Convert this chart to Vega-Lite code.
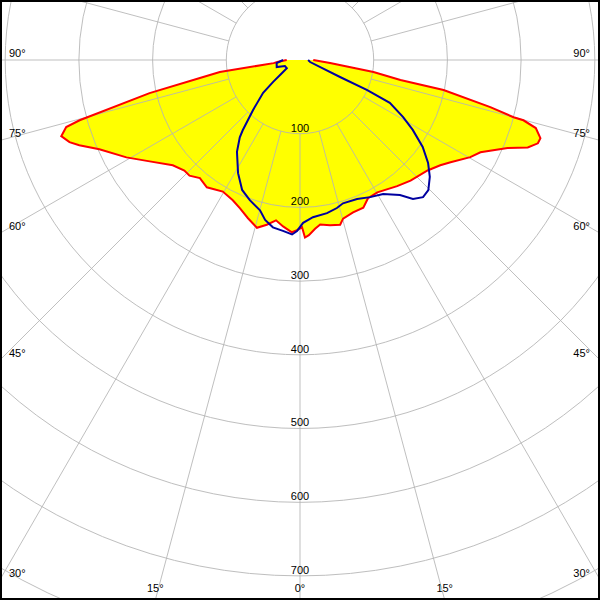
{
  "$schema": "https://vega.github.io/schema/vega-lite/v6.json",
  "width": 596,
  "height": 596,
  "autosize": "none",
  "padding": 2,
  "background": "#000000",
  "view": {"fill": "#ffffff", "stroke": null},
  "datasets": {
    "red": [
      {"g": -90, "cd": 18}, {"g": -85.0, "cd": 31}, {"g": -83.2, "cd": 36}, {"g": -81.5, "cd": 110},
      {"g": -79.8, "cd": 138}, {"g": -77.6, "cd": 209}, {"g": -74.7, "cd": 310}, {"g": -74.0, "cd": 330},
      {"g": -72.3, "cd": 340}, {"g": -70.4, "cd": 332}, {"g": -68.9, "cd": 321}, {"g": -66.0, "cd": 298},
      {"g": -60.7, "cd": 270}, {"g": -56.0, "cd": 246}, {"g": -50.4, "cd": 224}, {"g": -46.3, "cd": 217},
      {"g": -43.7, "cd": 217}, {"g": -40.3, "cd": 210}, {"g": -36.2, "cd": 214}, {"g": -30.4, "cd": 207},
      {"g": -25.6, "cd": 211}, {"g": -22.1, "cd": 217}, {"g": -18.2, "cd": 226}, {"g": -14.4, "cd": 235},
      {"g": -11.4, "cd": 228}, {"g": -8.5, "cd": 220}, {"g": -5.8, "cd": 227}, {"g": -2.7, "cd": 234},
      {"g": -1.0, "cd": 231}, {"g": 0.7, "cd": 227}, {"g": 1.6, "cd": 241}, {"g": 2.9, "cd": 238},
      {"g": 5.1, "cd": 230}, {"g": 7.0, "cd": 225}, {"g": 10.3, "cd": 228}, {"g": 13.7, "cd": 230},
      {"g": 15.2, "cd": 223}, {"g": 19.2, "cd": 219}, {"g": 23.2, "cd": 218}, {"g": 26.2, "cd": 209},
      {"g": 30.3, "cd": 208}, {"g": 37.6, "cd": 216}, {"g": 42.5, "cd": 222}, {"g": 49.1, "cd": 229},
      {"g": 53.1, "cd": 238}, {"g": 55.8, "cd": 247}, {"g": 60.3, "cd": 266}, {"g": 62.9, "cd": 275},
      {"g": 67.0, "cd": 306}, {"g": 69.0, "cd": 331}, {"g": 70.7, "cd": 342}, {"g": 72.0, "cd": 343},
      {"g": 73.9, "cd": 333}, {"g": 74.9, "cd": 314}, {"g": 75.0, "cd": 300}, {"g": 76.1, "cd": 266},
      {"g": 78.2, "cd": 199}, {"g": 78.7, "cd": 139}, {"g": 80.7, "cd": 101}, {"g": 84.3, "cd": 41},
      {"g": 90, "cd": 18}
    ],
    "blue": [
      {"g": -90, "cd": 23}, {"g": -82.6, "cd": 32}, {"g": -73.1, "cd": 33}, {"g": -68.2, "cd": 22},
      {"g": -58.4, "cd": 21}, {"g": -54.2, "cd": 30}, {"g": -50.8, "cd": 47}, {"g": -48.3, "cd": 67},
      {"g": -43.2, "cd": 93}, {"g": -39.2, "cd": 123}, {"g": -37.9, "cd": 133}, {"g": -34.5, "cd": 151},
      {"g": -28.7, "cd": 175}, {"g": -24.0, "cd": 193}, {"g": -19.7, "cd": 202}, {"g": -14.9, "cd": 211},
      {"g": -12.3, "cd": 222}, {"g": -9.2, "cd": 230}, {"g": -5.7, "cd": 233}, {"g": -2.6, "cd": 237},
      {"g": -1.0, "cd": 232}, {"g": 1.1, "cd": 221}, {"g": 4.7, "cd": 214}, {"g": 10.0, "cd": 211},
      {"g": 14.0, "cd": 207}, {"g": 16.7, "cd": 203}, {"g": 22.3, "cd": 204}, {"g": 27.1, "cd": 209},
      {"g": 31.8, "cd": 214}, {"g": 36.5, "cd": 228}, {"g": 39.1, "cd": 243}, {"g": 41.9, "cd": 250},
      {"g": 44.6, "cd": 248}, {"g": 48.0, "cd": 237}, {"g": 51.2, "cd": 223}, {"g": 54.7, "cd": 204},
      {"g": 58.2, "cd": 180}, {"g": 61.0, "cd": 160}, {"g": 64.5, "cd": 135}, {"g": 65.9, "cd": 100},
      {"g": 67.0, "cd": 59}, {"g": 78.7, "cd": 14}, {"g": 90, "cd": 11}
    ],
    "rings": [
      {"v": 100}, {"v": 200}, {"v": 300}, {"v": 400}, {"v": 500}, {"v": 600}, {"v": 700}, {"v": 800}
    ],
    "rays": [
      {"g": 0}, {"g": 15}, {"g": 30}, {"g": 45}, {"g": 60}, {"g": 75}, {"g": 90}, {"g": 105},
      {"g": 120}, {"g": 135}, {"g": 150}, {"g": 165}, {"g": 180}, {"g": 195}, {"g": 210}, {"g": 225},
      {"g": 240}, {"g": 255}, {"g": 270}, {"g": 285}, {"g": 300}, {"g": 315}, {"g": 330}, {"g": 345}
    ],
    "angles": [
      {"g": -90, "lab": "90°", "side": "L"}, {"g": -75, "lab": "75°", "side": "L"},
      {"g": -60, "lab": "60°", "side": "L"}, {"g": -45, "lab": "45°", "side": "L"},
      {"g": -30, "lab": "30°", "side": "L"}, {"g": -15, "lab": "15°", "side": "B"},
      {"g": 0, "lab": "0°", "side": "B"}, {"g": 15, "lab": "15°", "side": "B"},
      {"g": 30, "lab": "30°", "side": "R"}, {"g": 45, "lab": "45°", "side": "R"},
      {"g": 60, "lab": "60°", "side": "R"}, {"g": 75, "lab": "75°", "side": "R"},
      {"g": 90, "lab": "90°", "side": "R"}
    ]
  },
  "layer": [
    {
      "data": {"name": "red"},
      "transform": [
        {"calculate": "datum.cd*sin(datum.g*PI/180)", "as": "x"},
        {"calculate": "datum.cd*cos(datum.g*PI/180)", "as": "y"}
      ],
      "mark": {"type": "line", "filled": true, "color": "#ffff00", "strokeOpacity": 0, "clip": true},
      "encoding": {
        "x": {"field": "x", "type": "quantitative", "scale": {"domain": [-404.34, 404.34], "nice": false, "zero": false}, "axis": null},
        "y": {"field": "y", "type": "quantitative", "scale": {"domain": [-78.7, 730.0], "reverse": true, "nice": false, "zero": false}, "axis": null},
        "order": {"field": "g", "type": "quantitative"}
      }
    },
    {
      "data": {"name": "rings"},
      "mark": {"type": "point", "shape": "circle", "filled": false, "stroke": "#b4b4b4", "strokeWidth": 1, "opacity": 0.85, "clip": true},
      "encoding": {
        "x": {"datum": 0, "type": "quantitative"},
        "y": {"datum": 0, "type": "quantitative"},
        "size": {"field": "v", "type": "quantitative", "scale": {"type": "pow", "exponent": 2, "domain": [0, 1000], "range": [0, 2172676]}, "legend": null}
      }
    },
    {
      "data": {"name": "rays"},
      "transform": [
        {"calculate": "100*sin(datum.g*PI/180)", "as": "x1"},
        {"calculate": "100*cos(datum.g*PI/180)", "as": "y1"},
        {"calculate": "1500*sin(datum.g*PI/180)", "as": "x2"},
        {"calculate": "1500*cos(datum.g*PI/180)", "as": "y2"}
      ],
      "mark": {"type": "rule", "stroke": "#b4b4b4", "strokeWidth": 1, "opacity": 0.85, "clip": true},
      "encoding": {
        "x": {"field": "x1", "type": "quantitative"},
        "y": {"field": "y1", "type": "quantitative"},
        "x2": {"field": "x2"},
        "y2": {"field": "y2"}
      }
    },
    {
      "data": {"name": "rings"},
      "transform": [{"filter": "datum.v <= 700"}],
      "mark": {"type": "text", "font": "Liberation Sans", "fontSize": 11, "fill": "#000000", "baseline": "bottom", "align": "center"},
      "encoding": {
        "x": {"datum": 0, "type": "quantitative"},
        "y": {"field": "v", "type": "quantitative"},
        "text": {"field": "v", "type": "quantitative"},
        "color": {"value": "#000000"}
      }
    },
    {
      "data": {"name": "red"},
      "transform": [
        {"calculate": "datum.cd*sin(datum.g*PI/180)", "as": "x"},
        {"calculate": "datum.cd*cos(datum.g*PI/180)", "as": "y"}
      ],
      "mark": {"type": "line", "color": "#ff0000", "strokeWidth": 2, "clip": true},
      "encoding": {
        "x": {"field": "x", "type": "quantitative"},
        "y": {"field": "y", "type": "quantitative"},
        "order": {"field": "g", "type": "quantitative"}
      }
    },
    {
      "data": {"name": "blue"},
      "transform": [
        {"calculate": "datum.cd*sin(datum.g*PI/180)", "as": "x"},
        {"calculate": "datum.cd*cos(datum.g*PI/180)", "as": "y"}
      ],
      "mark": {"type": "line", "color": "#0000a0", "strokeWidth": 2, "clip": true},
      "encoding": {
        "x": {"field": "x", "type": "quantitative"},
        "y": {"field": "y", "type": "quantitative"},
        "order": {"field": "g", "type": "quantitative"}
      }
    },
    {
      "data": {"name": "angles"},
      "transform": [
        {"filter": "datum.side == 'L'"},
        {"calculate": "min(407.06/max(abs(sin(datum.g*PI/180)),1e-9), 732.71/max(abs(cos(datum.g*PI/180)),1e-9))", "as": "t"},
        {"calculate": "datum.t*sin(datum.g*PI/180)", "as": "ax"},
        {"calculate": "datum.t*cos(datum.g*PI/180)", "as": "ay"}
      ],
      "mark": {"type": "text", "font": "Liberation Sans", "fontSize": 11, "fill": "#000000", "align": "left", "baseline": "bottom", "dx": 9, "dy": -1},
      "encoding": {
        "x": {"field": "ax", "type": "quantitative"},
        "y": {"field": "ay", "type": "quantitative"},
        "text": {"field": "lab"}
      }
    },
    {
      "data": {"name": "angles"},
      "transform": [
        {"filter": "datum.side == 'R'"},
        {"calculate": "min(407.06/max(abs(sin(datum.g*PI/180)),1e-9), 732.71/max(abs(cos(datum.g*PI/180)),1e-9))", "as": "t"},
        {"calculate": "datum.t*sin(datum.g*PI/180)", "as": "ax"},
        {"calculate": "datum.t*cos(datum.g*PI/180)", "as": "ay"}
      ],
      "mark": {"type": "text", "font": "Liberation Sans", "fontSize": 11, "fill": "#000000", "align": "right", "baseline": "bottom", "dx": -10, "dy": -1},
      "encoding": {
        "x": {"field": "ax", "type": "quantitative"},
        "y": {"field": "ay", "type": "quantitative"},
        "text": {"field": "lab"}
      }
    },
    {
      "data": {"name": "angles"},
      "transform": [
        {"filter": "datum.side == 'B'"},
        {"calculate": "min(407.06/max(abs(sin(datum.g*PI/180)),1e-9), 732.71/max(abs(cos(datum.g*PI/180)),1e-9))", "as": "t"},
        {"calculate": "datum.t*sin(datum.g*PI/180)", "as": "ax"},
        {"calculate": "datum.t*cos(datum.g*PI/180)", "as": "ay"}
      ],
      "mark": {"type": "text", "font": "Liberation Sans", "fontSize": 11, "fill": "#000000", "align": "center", "baseline": "bottom", "dy": -6},
      "encoding": {
        "x": {"field": "ax", "type": "quantitative"},
        "y": {"field": "ay", "type": "quantitative"},
        "text": {"field": "lab"}
      }
    }
  ]
}
